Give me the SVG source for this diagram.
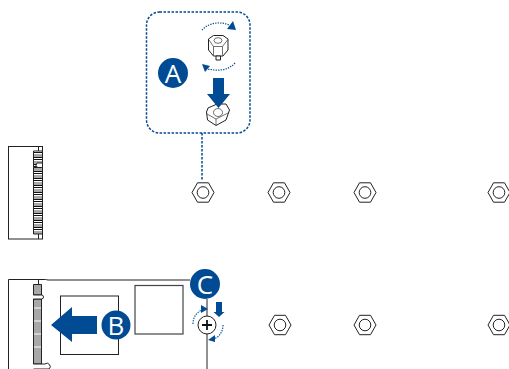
<svg xmlns="http://www.w3.org/2000/svg" width="509" height="369" viewBox="0 0 509 369">
<defs>
<style>
.o{fill:#fff;stroke:#222;stroke-width:1}
.l{fill:none;stroke:#222;stroke-width:1}
.f{fill:none;stroke:#333;stroke-width:.7}
.d{fill:none;stroke:#004b93;stroke-width:1.500;stroke-dasharray:2.500 1.500}
.a{fill:none;stroke:#004b93;stroke-width:1.200;stroke-dasharray:1.300 1.200}
.b{fill:#004b93}
.t{font-family:"Open Sans","Liberation Sans",sans-serif;font-size:26px;fill:#fff;text-anchor:middle}
</style>
<pattern id="pins" x="33" y="150" width="9" height="7" patternUnits="userSpaceOnUse">
<rect width="9" height="7" fill="#a8a8a8"/>
<path d="M0 .5H9M0 2.500H9" stroke="#111" stroke-width="1"/>
<path d="M0 1.500H9M0 3.500H9" stroke="#fff" stroke-width="1"/>
</pattern>
<g id="nut"><path class="o" d="M-11 0L-5.500-9.700H5.500L11 0L5.500 9.700H-5.500Z"/><circle class="l" r="5.800"/></g>
</defs>
<g id="connector-top">
<rect class="o" x="8.500" y="146.500" width="34" height="92.500" stroke-width="1.200"/>
<path class="l" d="M38.500 146.500V151M38.500 234V239"/>
<path d="M33.500 151H42.500V163H37L36 165.500L37.500 167.500H33.500V167.500H42.500V234H33.500V167.500H33.500V151Z" fill="url(#pins)" stroke="#222" stroke-width="1"/>
</g>
<g id="nuts">
<use id="nut-1" href="#nut" x="203" y="192.500"/>
<use id="nut-2" href="#nut" x="279" y="192.500"/>
<use id="nut-3" href="#nut" x="365" y="192.500"/>
<use id="nut-4" href="#nut" x="499" y="192.500"/>
<use id="nut-5" href="#nut" x="280" y="325"/>
<use id="nut-6" href="#nut" x="365" y="325"/>
<use id="nut-7" href="#nut" x="499" y="325"/>
</g>
<g id="connectors">
<path class="d" d="M202 133V181"/>
</g>
<g id="callout-a">
<rect class="d" x="146.500" y="12" width="103.500" height="121" rx="13"/>
<circle class="b" cx="173" cy="73" r="15"/>
<text class="t" x="173" y="82.500">A</text>
<path class="o" d="M208.500 39L213.500 35.500H223L228 39V50L223 56H213.500L208.500 50Z"/>
<path class="f" d="M209 40L213.500 46.500H222.500L227.500 40M213.500 46.500V55.500M222.500 46.500V55.500"/>
<ellipse class="f" cx="218" cy="40.500" rx="4" ry="2.800"/>
<path class="o" d="M216 56H220.500V60H216Z"/>
<path class="a" d="M202 30C208 23 220 21 229 25"/>
<path class="b" d="M227 29L233 21L236 30Z"/>
<path class="a" d="M235 63C228 71 217 71 208 69"/>
<path class="b" d="M202 64L210 66L205 72Z"/>
<path class="o" d="M208 108L217 104H226L229.500 110L226 120L216 125.500L207.500 120L206.500 112Z"/>
<path class="f" d="M207 114L216 119L228 113M216 119V125"/>
<ellipse class="f" cx="218" cy="112.500" rx="4.500" ry="4"/>
<path class="b" d="M213 78H224V94H230L218.500 108L207 94H213Z"/>
</g>
<g id="connector-bottom">
<path class="l" d="M8.500 369V279.500H45.500L48 280H190M207 299V369M38.500 279.500V285M38.500 365V369" stroke-width="1.200"/>
<path d="M33.500 284.500H41.500V295H33.500ZM33.500 299H41.500V364H33.500Z" fill="#a8a8a8" stroke="#222" stroke-width="1"/>
<path d="M33.500 295H41.500A2 2 0 0 1 41.500 299H33.500" class="o"/>
<path d="M33.500 364H45A3 3 0 0 1 49 369H33.500" class="o"/>
<path d="M34 308H41M34 321H41M34 334H41M34 347H41" stroke="#fff" stroke-width="1"/>
<rect class="l" x="60.500" y="296" width="58" height="58.500"/>
<rect x="135" y="285.500" width="48" height="48.500" fill="#fff" stroke="#444" stroke-width="1.200"/>
</g>
<g id="callout-b">
<path class="b" d="M51 325L72 307V316H97V334H72V342Z"/>
<circle class="b" cx="116" cy="325" r="14.500"/>
<text class="t" x="116" y="334.500">B</text>
</g>
<g id="callout-c">
<circle class="b" cx="205" cy="284" r="15"/>
<text class="t" x="205" y="293.500">C</text>
<circle class="o" cx="207" cy="325" r="9" stroke-width="1.500"/>
<path d="M202 325H212M207 320V330" stroke="#111" stroke-width="1.800"/>
<path class="b" d="M216 302H222V312H224.500L219 317L213.500 312H216Z"/>
<path class="a" d="M193 324C193 316 198 311 204 309"/>
<path class="b" d="M201 305L208 309L201 313Z"/>
<path class="a" d="M223 325C223 333 218 338 212 340"/>
<path class="b" d="M208 340L215 335L215 342Z"/>
</g>
</svg>
